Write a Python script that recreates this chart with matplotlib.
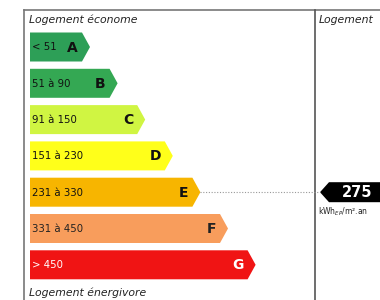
import matplotlib
matplotlib.use("Agg")
import matplotlib.pyplot as plt
from matplotlib.patches import Polygon

classes = ["A", "B", "C", "D", "E", "F", "G"]
ranges = ["< 51", "51 à 90", "91 à 150", "151 à 230", "231 à 330", "331 à 450", "> 450"]
colors = ["#2d9f57", "#34a853", "#d0f542", "#ffff1a", "#f7b500", "#f89d5c", "#f01414"]
text_colors = ["#111111", "#111111", "#111111", "#111111", "#111111", "#222222", "#ffffff"]
value = 275
value_class = "E"
unit = "kWh$_{EP}$/m².an"
top_label = "Logement économe"
bottom_label = "Logement énergivore"
right_label = "Logement"

fig = plt.figure(figsize=(3.8, 3.0), dpi=100)
ax = fig.add_axes([0, 0, 1, 1])
ax.set_xlim(0, 380)
ax.set_ylim(300, 0)
ax.axis("off")

# frame
ax.plot([24, 380], [10, 10], color="#777777", lw=1.2)
ax.plot([24, 24], [10, 300], color="#777777", lw=1.2)
ax.plot([315, 315], [10, 300], color="#555555", lw=1.2)

x0 = 30
y0 = 47
step = 36.3
h = 29
tip = 8
len0 = 52
dlen = 27.6

ax.text(29, 20, top_label, fontsize=7.8, style="italic", va="center", ha="left", color="#222222")
ax.text(29, 293, bottom_label, fontsize=7.8, style="italic", va="center", ha="left", color="#222222")
ax.text(319, 20, right_label, fontsize=7.8, style="italic", va="center", ha="left", color="#222222")

for i, (c, r, col, tc) in enumerate(zip(classes, ranges, colors, text_colors)):
    yc = y0 + i * step
    xe = x0 + len0 + i * dlen
    poly = Polygon([(x0, yc - h / 2), (xe, yc - h / 2), (xe + tip, yc), (xe, yc + h / 2), (x0, yc + h / 2)],
                   closed=True, facecolor=col, edgecolor="none")
    ax.add_patch(poly)
    ax.text(x0 + 2, yc + 0.5, r, fontsize=7.3, va="center", ha="left", color=tc)
    ax.text(xe - 4, yc + 0.5, c, fontsize=10, fontweight="bold", va="center", ha="right", color=tc)
    if c == value_class:
        ax.plot([xe + tip, 320], [yc, yc], color="#999999", lw=0.8, ls=(0, (1, 1.5)))
        yv = yc
        ax.add_patch(Polygon([(320, yv), (329, yv - 10), (385, yv - 10), (385, yv + 10), (329, yv + 10)],
                             closed=True, facecolor="#000000", edgecolor="none"))
        ax.text(357, yv + 0.5, str(value), fontsize=10.5, fontweight="bold", color="white", va="center", ha="center")
        ax.text(318, yv + 20, unit, fontsize=5.5, color="#222222", va="center", ha="left")

fig.savefig("out.png", dpi=100)
